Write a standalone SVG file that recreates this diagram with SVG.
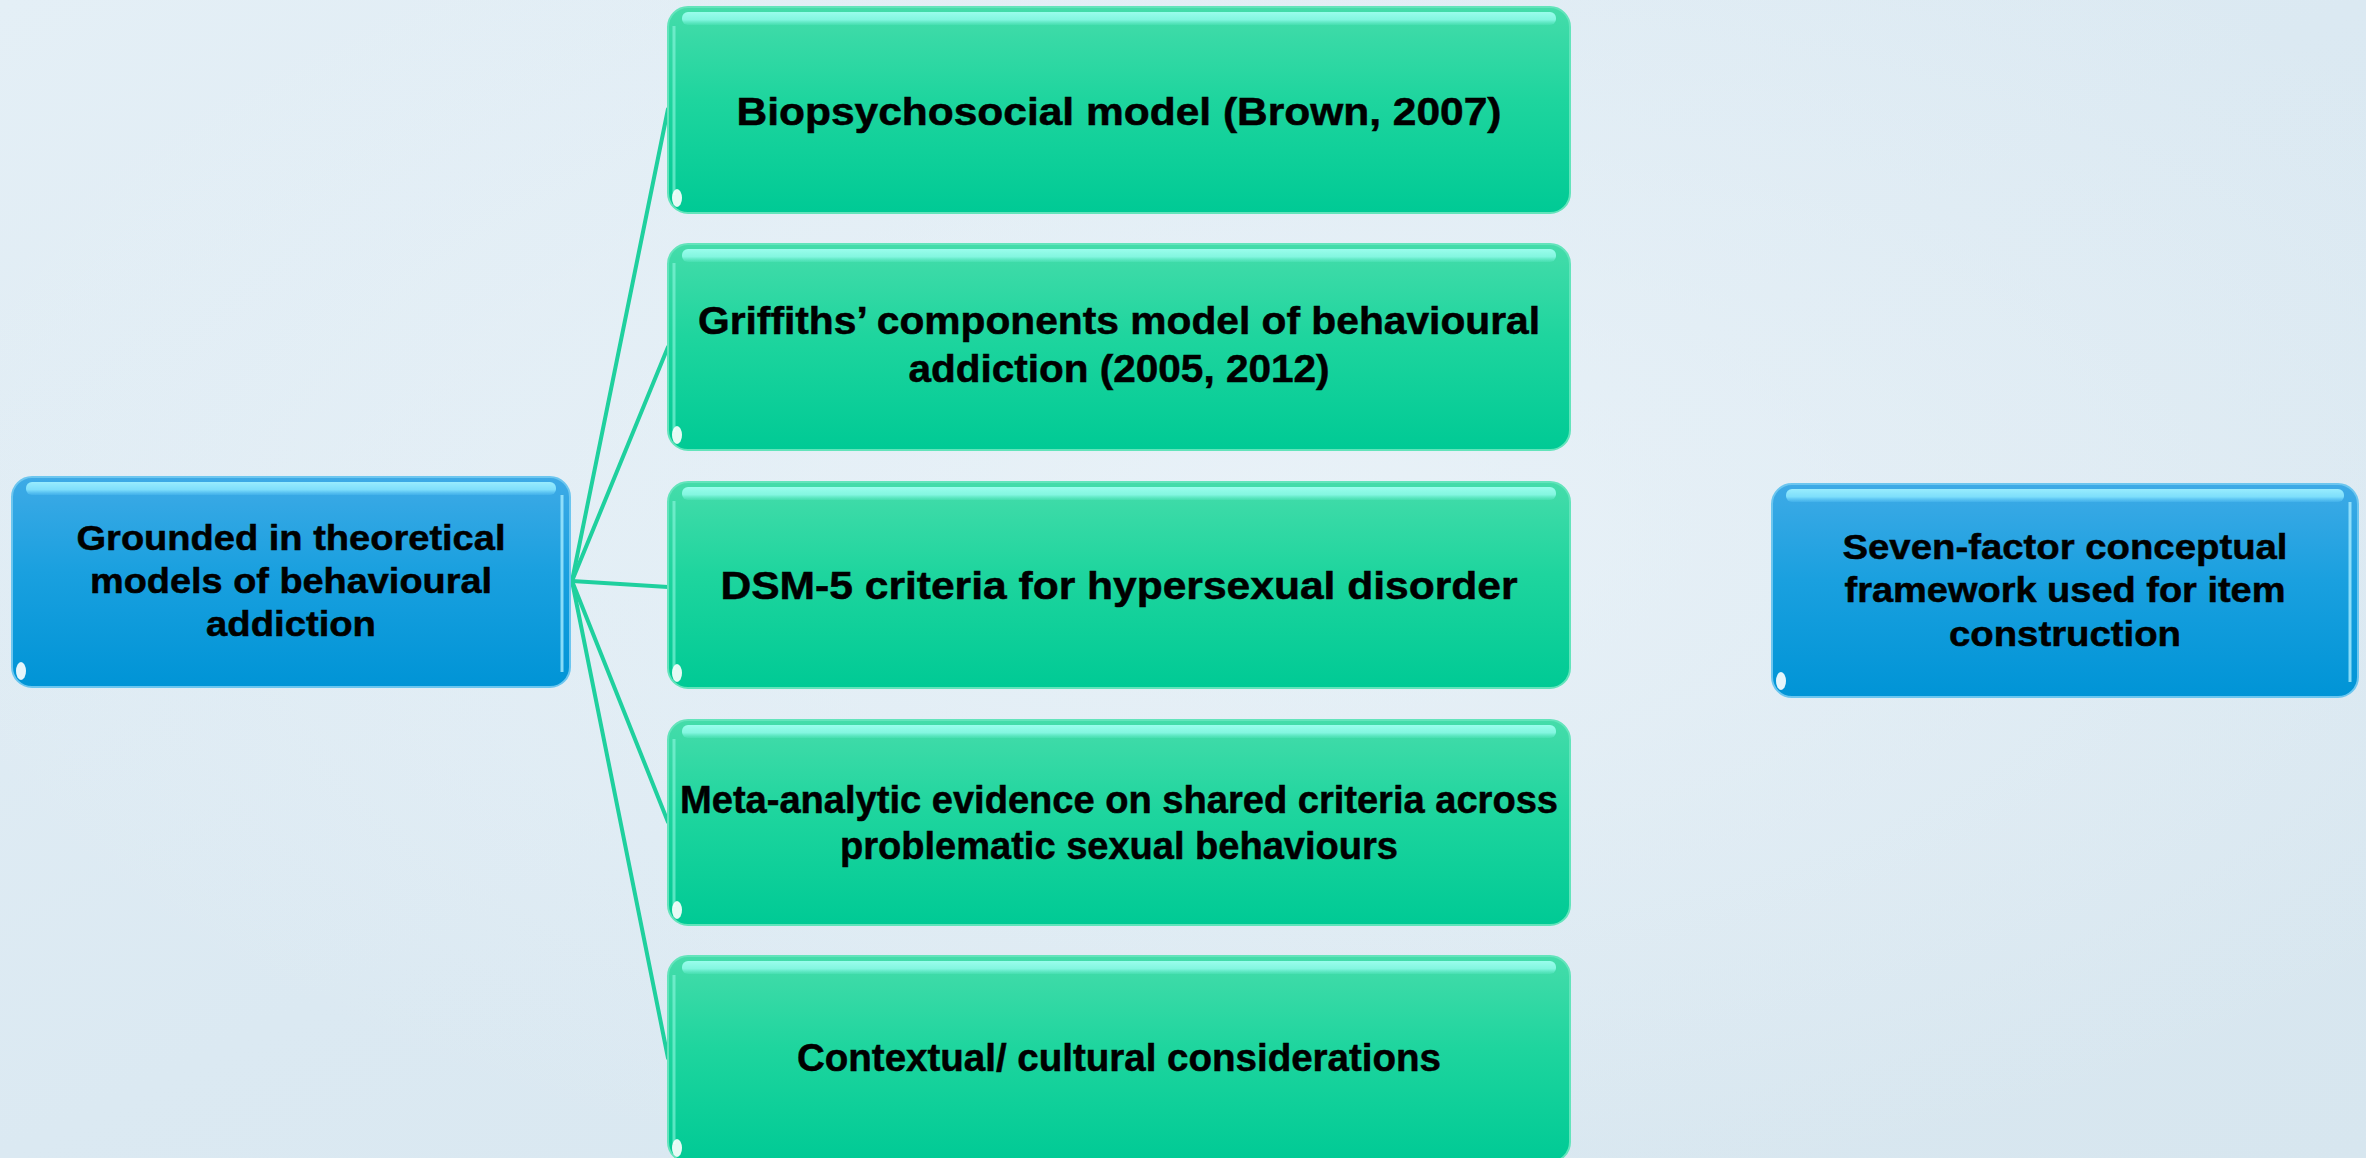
<svg xmlns="http://www.w3.org/2000/svg" width="2366" height="1158" viewBox="0 0 2366 1158">
  <defs>
    <linearGradient id="bg" x1="0" y1="0" x2="1" y2="1">
      <stop offset="0" stop-color="#e4eff6"/>
      <stop offset="0.5" stop-color="#dbe9f2"/>
      <stop offset="1" stop-color="#d7e6ef"/>
    </linearGradient>
    <radialGradient id="bgGlow" cx="0.55" cy="0.45" r="0.6">
      <stop offset="0" stop-color="#eef5fa" stop-opacity="0.7"/>
      <stop offset="1" stop-color="#eef5fa" stop-opacity="0"/>
    </radialGradient>
    <linearGradient id="greenFill" x1="0" y1="0" x2="0" y2="1">
      <stop offset="0" stop-color="#45dcaa"/>
      <stop offset="0.45" stop-color="#1ed59e"/>
      <stop offset="1" stop-color="#00ca95"/>
    </linearGradient>
    <linearGradient id="blueFill" x1="0" y1="0" x2="0" y2="1">
      <stop offset="0" stop-color="#3eaae6"/>
      <stop offset="0.45" stop-color="#1aa0df"/>
      <stop offset="1" stop-color="#0094d6"/>
    </linearGradient>
    <linearGradient id="greenShine" x1="0" y1="0" x2="0" y2="1">
      <stop offset="0" stop-color="#9ffff0" stop-opacity="0.95"/>
      <stop offset="0.6" stop-color="#8ffbea" stop-opacity="0.85"/>
      <stop offset="1" stop-color="#6ff0d4" stop-opacity="0.2"/>
    </linearGradient>
    <linearGradient id="blueShine" x1="0" y1="0" x2="0" y2="1">
      <stop offset="0" stop-color="#9ef0ff" stop-opacity="0.95"/>
      <stop offset="0.6" stop-color="#8ae8ff" stop-opacity="0.85"/>
      <stop offset="1" stop-color="#6fd4ff" stop-opacity="0.2"/>
    </linearGradient>
  </defs>
  <style>
    .green { fill: url(#greenFill); stroke: #63e4bb; stroke-width: 2; }
    .blue { fill: url(#blueFill); stroke: #6cc6ef; stroke-width: 2; }
    .gShine { fill: url(#greenShine); }
    .bShine { fill: url(#blueShine); }
    .gEdge { fill: none; stroke: #8ff7df; stroke-width: 3; stroke-opacity: 0.6; }
    .bEdge { fill: none; stroke: #a6ecff; stroke-width: 3; stroke-opacity: 0.8; }
    .glint { fill: #ffffff; opacity: 0.9; }
    .label { font-family: "Liberation Sans", Arial, sans-serif; font-weight: bold; fill: #000000; stroke: #000000; stroke-width: 0.5; text-anchor: middle; }
    .gl { font-size: 38px; }
    .bl { font-size: 35px; }
    .link { stroke: #1fd09e; stroke-width: 4; fill: none; stroke-linecap: round; }
  </style>

  <!-- background -->
  <rect x="0" y="0" width="2366" height="1158" fill="url(#bg)"/>
  <rect x="0" y="0" width="2366" height="1158" fill="url(#bgGlow)"/>

  <!-- connectors from the root to each model -->
  <g id="connectors">
    <line class="link" x1="572" y1="581" x2="668" y2="109"/>
    <line class="link" x1="572" y1="581" x2="668" y2="347"/>
    <line class="link" x1="572" y1="581" x2="668" y2="587"/>
    <line class="link" x1="572" y1="581" x2="668" y2="822"/>
    <line class="link" x1="572" y1="581" x2="668" y2="1058"/>
  </g>

  <!-- root node -->
  <g id="root">
    <rect class="blue" x="12" y="477" width="558" height="210" rx="20"/>
    <rect class="bShine" x="26" y="482" width="530" height="13" rx="6"/>
    <path class="bEdge" d="M562 495 L562 672"/>
    <ellipse class="glint" cx="21" cy="671" rx="5" ry="9"/>
    <text class="label bl" x="291" y="550" textLength="429" lengthAdjust="spacingAndGlyphs">Grounded in theoretical</text>
    <text class="label bl" x="291" y="593" textLength="402" lengthAdjust="spacingAndGlyphs">models of behavioural</text>
    <text class="label bl" x="291" y="636" textLength="170" lengthAdjust="spacingAndGlyphs">addiction</text>
  </g>

  <!-- model nodes -->
  <g id="biopsychosocial">
    <rect class="green" x="668" y="7" width="902" height="206" rx="20"/>
    <rect class="gShine" x="682" y="12" width="874" height="13" rx="6"/>
    <path class="gEdge" d="M674 26 L674 195"/>
    <ellipse class="glint" cx="677" cy="198" rx="5" ry="9"/>
    <text class="label gl" x="1119" y="125" textLength="765" lengthAdjust="spacingAndGlyphs">Biopsychosocial model (Brown, 2007)</text>
  </g>

  <g id="griffiths">
    <rect class="green" x="668" y="244" width="902" height="206" rx="20"/>
    <rect class="gShine" x="682" y="249" width="874" height="13" rx="6"/>
    <path class="gEdge" d="M674 263 L674 432"/>
    <ellipse class="glint" cx="677" cy="435" rx="5" ry="9"/>
    <text class="label gl" x="1119" y="334" textLength="842" lengthAdjust="spacingAndGlyphs">Griffiths’ components model of behavioural</text>
    <text class="label gl" x="1119" y="382" textLength="421" lengthAdjust="spacingAndGlyphs">addiction (2005, 2012)</text>
  </g>

  <g id="dsm5">
    <rect class="green" x="668" y="482" width="902" height="206" rx="20"/>
    <rect class="gShine" x="682" y="487" width="874" height="13" rx="6"/>
    <path class="gEdge" d="M674 501 L674 670"/>
    <ellipse class="glint" cx="677" cy="673" rx="5" ry="9"/>
    <text class="label gl" x="1119" y="599" textLength="797" lengthAdjust="spacingAndGlyphs">DSM-5 criteria for hypersexual disorder</text>
  </g>

  <g id="meta-analytic">
    <rect class="green" x="668" y="720" width="902" height="205" rx="20"/>
    <rect class="gShine" x="682" y="725" width="874" height="13" rx="6"/>
    <path class="gEdge" d="M674 739 L674 907"/>
    <ellipse class="glint" cx="677" cy="910" rx="5" ry="9"/>
    <text class="label gl" x="1119" y="813" textLength="878" lengthAdjust="spacingAndGlyphs">Meta-analytic evidence on shared criteria across</text>
    <text class="label gl" x="1119" y="859" textLength="558" lengthAdjust="spacingAndGlyphs">problematic sexual behaviours</text>
  </g>

  <g id="contextual">
    <rect class="green" x="668" y="956" width="902" height="206" rx="20"/>
    <rect class="gShine" x="682" y="961" width="874" height="13" rx="6"/>
    <path class="gEdge" d="M674 975 L674 1144"/>
    <ellipse class="glint" cx="677" cy="1148" rx="5" ry="9"/>
    <text class="label gl" x="1119" y="1071" textLength="644" lengthAdjust="spacingAndGlyphs">Contextual/ cultural considerations</text>
  </g>

  <!-- outcome node -->
  <g id="framework">
    <rect class="blue" x="1772" y="484" width="586" height="213" rx="20"/>
    <rect class="bShine" x="1786" y="489" width="558" height="13" rx="6"/>
    <path class="bEdge" d="M2350 502 L2350 682"/>
    <ellipse class="glint" cx="1781" cy="681" rx="5" ry="9"/>
    <text class="label bl" x="2065" y="559" textLength="445" lengthAdjust="spacingAndGlyphs">Seven-factor conceptual</text>
    <text class="label bl" x="2065" y="602" textLength="441" lengthAdjust="spacingAndGlyphs">framework used for item</text>
    <text class="label bl" x="2065" y="646" textLength="232" lengthAdjust="spacingAndGlyphs">construction</text>
  </g>
</svg>
